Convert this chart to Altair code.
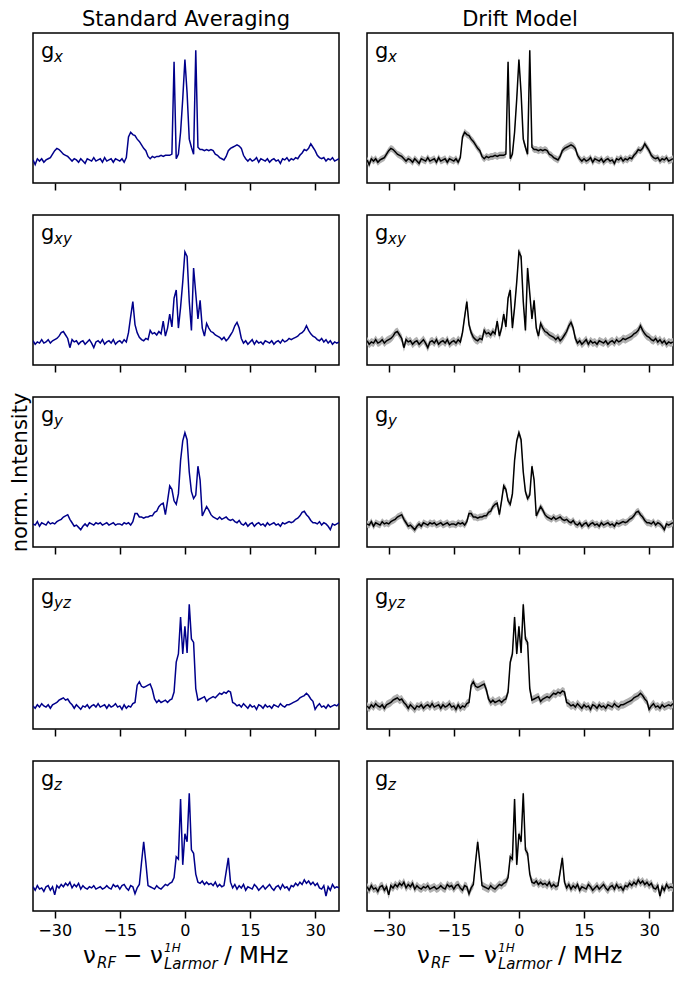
import altair as alt
import pandas as pd

# ---------------- data ----------------
FREQ = [round(-35.0 + 0.5 * i, 1) for i in range(142)]  # MHz grid
TICKS = [-30, -15, 0, 15, 30]
COLUMN_TITLES = ["Standard Averaging", "Drift Model"]
PANEL_SUBSCRIPTS = ["x", "xy", "y", "yz", "z"]
Y_TITLE = "norm. Intensity"
X_TITLE_PARTS = ["ν", "RF", "−", "ν", "1H", "Larmor", "/ MHz"]

G_X = [
    0.00, -0.04, 0.01, -0.01, 0.01, -0.02, 0.00, 0.01, 0.02, 0.05,
    0.08, 0.10, 0.09, 0.07, 0.05, 0.04, 0.03, 0.01, -0.01, 0.01,
    0.00, -0.02, 0.01, -0.01, -0.03, 0.01, 0.00, -0.01, 0.02, -0.01,
    0.00, 0.01, -0.02, 0.02, -0.01, 0.00, 0.01, -0.02, 0.01, 0.00,
    -0.01, 0.01, -0.02, 0.02, 0.20, 0.24, 0.22, 0.21, 0.18, 0.16,
    0.13, 0.10, 0.08, 0.03, 0.01, 0.03, 0.02, 0.03, 0.03, 0.04,
    0.03, 0.04, 0.04, 0.04, 0.05, 0.85, 0.01, 0.05, 0.24, 0.53,
    0.87, 0.58, 0.18, 0.11, 0.05, 0.95, 0.11, 0.09, 0.09, 0.08,
    0.09, 0.08, 0.09, 0.08, 0.05, 0.04, 0.02, 0.01, 0.00, 0.03,
    0.08, 0.10, 0.11, 0.12, 0.13, 0.12, 0.10, 0.04, 0.01, -0.01,
    0.01, -0.01, 0.00, 0.02, -0.02, 0.01, 0.00, -0.01, 0.01, -0.02,
    0.00, 0.01, -0.01, 0.00, -0.03, 0.01, 0.00, 0.02, -0.01, 0.01,
    0.00, 0.02, 0.01, 0.04, 0.06, 0.09, 0.08, 0.10, 0.14, 0.11,
    0.08, 0.04, 0.02, 0.01, 0.02, -0.01, 0.01, 0.00, 0.02, -0.01,
    0.00, 0.01,
]

G_XY = [
    0.01, -0.02, 0.00, -0.01, 0.02, -0.01, 0.00, 0.02, -0.01, 0.01,
    0.02, 0.03, 0.05, 0.08, 0.09, 0.06, 0.03, -0.05, 0.02, 0.00,
    0.01, -0.02, 0.00, 0.01, -0.02, 0.00, 0.02, -0.01, -0.05, 0.00,
    0.01, -0.01, 0.02, -0.02, 0.00, 0.01, -0.01, 0.02, -0.02, 0.00,
    0.01, -0.01, 0.02, 0.00, 0.08, 0.22, 0.35, 0.15, 0.08, 0.04,
    0.02, 0.01, 0.03, 0.02, 0.10, 0.07, 0.08, 0.06, 0.09, 0.07,
    0.18, 0.05, 0.12, 0.24, 0.13, 0.38, 0.45, 0.12, 0.30, 0.52,
    0.78, 0.74, 0.35, 0.10, 0.64, 0.42, 0.20, 0.36, 0.12, 0.05,
    0.16, 0.12, 0.09, 0.08, 0.06, 0.05, 0.04, 0.02, 0.04, 0.01,
    0.03, 0.06, 0.09, 0.14, 0.17, 0.12, 0.03, -0.01, 0.01, -0.02,
    0.00, 0.02, -0.02, 0.01, -0.01, 0.00, -0.02, 0.01, 0.00, -0.01,
    0.01, -0.02, 0.00, 0.01, -0.01, 0.02, 0.00, 0.01, 0.03, 0.02,
    0.03, 0.04, 0.05, 0.07, 0.08, 0.10, 0.14, 0.10, 0.07, 0.05,
    0.04, 0.02, 0.01, 0.03, 0.00, 0.02, -0.01, 0.01, -0.02, 0.00,
    -0.01, 0.00,
]

G_Y = [
    0.00, -0.01, 0.02, -0.02, 0.01, 0.00, -0.01, 0.02, 0.00, 0.01,
    0.00, 0.02, 0.03, 0.04, 0.06, 0.07, 0.08, 0.04, 0.01, -0.02,
    -0.01, -0.03, -0.05, -0.02, 0.00, -0.02, 0.01, 0.00, -0.01, 0.01,
    0.00, 0.01, -0.01, 0.00, 0.01, -0.01, 0.00, 0.01, -0.01, 0.00,
    0.00, -0.01, 0.01, 0.00, 0.01, -0.01, 0.02, 0.09, 0.09, 0.06,
    0.06, 0.05, 0.06, 0.06, 0.07, 0.07, 0.10, 0.11, 0.15, 0.17,
    0.18, 0.08, 0.20, 0.33, 0.30, 0.20, 0.17, 0.26, 0.55, 0.72,
    0.79, 0.73, 0.45, 0.28, 0.22, 0.25, 0.50, 0.38, 0.07, 0.11,
    0.15, 0.12, 0.08, 0.06, 0.05, 0.04, 0.06, 0.04, 0.05, 0.06,
    0.04, 0.03, 0.04, 0.02, 0.01, 0.03, 0.00, -0.01, 0.01, -0.02,
    0.00, 0.01, -0.02, 0.00, 0.01, -0.01, 0.00, -0.02, 0.01, -0.01,
    0.00, 0.01, -0.01, 0.00, -0.02, 0.01, 0.00, 0.01, 0.02, 0.01,
    0.02, 0.04, 0.05, 0.07, 0.10, 0.11, 0.08, 0.06, 0.03, 0.01,
    0.01, 0.00, 0.02, -0.01, 0.01, 0.00, -0.02, -0.05, 0.00, -0.01,
    0.00, 0.01,
]

G_YZ = [
    0.00, -0.02, 0.01, -0.01, 0.02, 0.00, -0.01, 0.01, -0.02, 0.01,
    0.02, 0.03, 0.05, 0.06, 0.07, 0.05, 0.06, 0.03, 0.01, -0.02,
    0.01, -0.01, -0.03, 0.00, -0.01, 0.01, -0.02, 0.00, 0.01, -0.01,
    0.02, -0.01, 0.00, 0.01, -0.02, 0.01, -0.01, 0.00, 0.02, -0.01,
    0.00, -0.03, 0.01, -0.02, 0.00, -0.01, 0.02, 0.03, 0.18, 0.21,
    0.17, 0.16, 0.17, 0.18, 0.19, 0.14, 0.06, 0.03, 0.05, 0.03,
    0.04, 0.05, 0.03, 0.05, 0.06, 0.12, 0.38, 0.45, 0.77, 0.45,
    0.69, 0.46, 0.88, 0.58, 0.55, 0.15, 0.05, 0.06, 0.07, 0.08,
    0.04, 0.06, 0.07, 0.08, 0.07, 0.09, 0.11, 0.10, 0.12, 0.11,
    0.13, 0.12, 0.03, 0.02, 0.00, 0.01, -0.01, 0.02, 0.00, -0.02,
    0.01, -0.01, 0.00, -0.03, 0.01, 0.00, -0.02, 0.01, -0.01, 0.00,
    -0.02, 0.01, 0.00, -0.01, 0.02, 0.00, -0.01, 0.01, 0.01, 0.02,
    0.03, 0.04, 0.05, 0.07, 0.08, 0.09, 0.11, 0.09, 0.06, 0.04,
    -0.03, 0.00, 0.02, -0.01, 0.00, -0.02, 0.01, -0.01, 0.00, 0.01,
    0.00, 0.02,
]

G_Z = [
    0.01, -0.02, 0.02, -0.01, 0.00, -0.03, 0.01, 0.02, -0.02, 0.01,
    -0.06, 0.02, 0.00, 0.03, 0.01, 0.04, 0.02, 0.05, 0.00, 0.03,
    0.01, 0.04, -0.01, 0.02, 0.00, -0.01, 0.01, 0.00, 0.02, -0.01,
    0.00, 0.01, -0.01, 0.00, 0.02, 0.00, -0.01, 0.03, 0.01, 0.02,
    -0.01, 0.02, 0.03, 0.00, -0.02, 0.02, 0.01, -0.05, 0.00, 0.03,
    0.22, 0.40, 0.22, 0.02, 0.01, 0.00, -0.01, 0.02, 0.00, -0.01,
    0.01, 0.03, 0.02, 0.04, 0.05, 0.09, 0.27, 0.25, 0.77, 0.20,
    0.47, 0.40, 0.82, 0.33, 0.30, 0.12, 0.05, 0.04, 0.06, 0.03,
    0.05, 0.03, 0.04, 0.02, 0.05, 0.01, 0.03, 0.01, 0.02, 0.14,
    0.26, 0.05, 0.00, 0.03, -0.01, 0.02, 0.00, 0.03, -0.02, 0.01,
    0.00, -0.01, 0.03, 0.01, -0.02, 0.00, 0.02, -0.01, 0.01, 0.03,
    0.00, -0.02, 0.01, 0.02, -0.01, 0.03, 0.00, 0.01, -0.02, 0.02,
    0.01, 0.04, 0.02, 0.05, 0.03, 0.07, 0.04, 0.06, 0.03, 0.05,
    0.02, 0.04, 0.00, -0.01, 0.02, -0.07, 0.01, -0.02, 0.03, 0.00,
    0.01, 0.00,
]

SPECTRA = [G_X, G_XY, G_Y, G_YZ, G_Z]
ERR_DRIFT = [0.03, 0.035, 0.03, 0.035, 0.035]  # half width of grey band (drift model)

# ---------------- style ----------------
W, H = 306, 150
FONT = "DejaVu Sans"
LINE_COLORS = ["#00008b", "#000000"]
BAND_COLOR = "#b0b0b0"
X_SCALE = alt.Scale(domain=[-35, 35.5], nice=False, zero=False)
Y_SCALE = alt.Scale(domain=[-0.2, 1.1], nice=False, zero=False)

# x-title pieces: (dx from start, dy from baseline, size, italic)
X_TITLE_LAYOUT = [(0, 0, 23, False), (14, 5, 15, True), (40, 0, 23, False),
                  (67, 0, 23, False), (81, -11, 12, True), (81, 6, 15, True),
                  (141, 0, 23, False)]
X_TITLE_WIDTH = 206
X_TITLE_BASELINE = H + 52


def text_layer(txt, x, y, size, italic=False, align="left"):
    df = pd.DataFrame({"t": [txt]})
    kw = dict(align=align, baseline="alphabetic", fontSize=size, font=FONT, color="black")
    if italic:
        kw["fontStyle"] = "italic"
    return alt.Chart(df).mark_text(**kw).encode(
        x=alt.value(x), y=alt.value(y), text="t:N"
    )


def panel(row, col):
    vals = SPECTRA[row]
    err = ERR_DRIFT[row] if col == 1 else 0.0
    df = pd.DataFrame({"f": FREQ, "v": vals})
    df["lo"] = df["v"] - err
    df["hi"] = df["v"] + err
    last = row == 4
    x_axis = alt.Axis(values=TICKS, ticks=True, tickSize=7, tickWidth=1.5,
                      tickColor="black", labels=last, labelFontSize=16,
                      labelFont=FONT, labelColor="black", labelPadding=4,
                      labelFlush=False, domain=False, grid=False, title=None)
    if col == 0 and row == 2:
        y_axis = alt.Axis(title=Y_TITLE, ticks=False, labels=False, domain=False,
                          grid=False, titleFontSize=21, titleFont=FONT,
                          titleFontWeight="normal", titleColor="black",
                          titlePadding=3)
    else:
        y_axis = None
    base = alt.Chart(df)
    layers = []
    if col == 1:
        layers.append(base.mark_area(color=BAND_COLOR, clip=True).encode(
            x=alt.X("f:Q", scale=X_SCALE, axis=x_axis),
            y=alt.Y("lo:Q", scale=Y_SCALE, axis=y_axis),
            y2="hi:Q"))
    layers.append(base.mark_line(color=LINE_COLORS[col], strokeWidth=1.5, clip=True).encode(
        x=alt.X("f:Q", scale=X_SCALE, axis=x_axis),
        y=alt.Y("v:Q", scale=Y_SCALE, axis=y_axis)))
    layers.append(text_layer("g", 8, 25, 21))
    layers.append(text_layer(PANEL_SUBSCRIPTS[row], 21, 29, 15, italic=True))
    if row == 0:
        layers.append(text_layer(COLUMN_TITLES[col], W / 2, -7, 21, align="center"))
    if last:
        start = W / 2 - X_TITLE_WIDTH / 2
        for part, (dx, dy, size, ital) in zip(X_TITLE_PARTS, X_TITLE_LAYOUT):
            layers.append(text_layer(part, start + dx, X_TITLE_BASELINE + dy, size, ital))
    return alt.layer(*layers).properties(width=W, height=H)


panels = [panel(r, c) for r in range(5) for c in range(2)]

chart = (
    alt.concat(*panels, columns=2, spacing={"row": 32, "column": 28})
    .properties(bounds="flush", padding={"left": 0, "top": 0, "right": 0, "bottom": 0})
    .configure(font=FONT)
    .configure_view(stroke="black", strokeWidth=1.5)
)

chart.save("out.html", embed_options={"renderer": "svg", "actions": False})
